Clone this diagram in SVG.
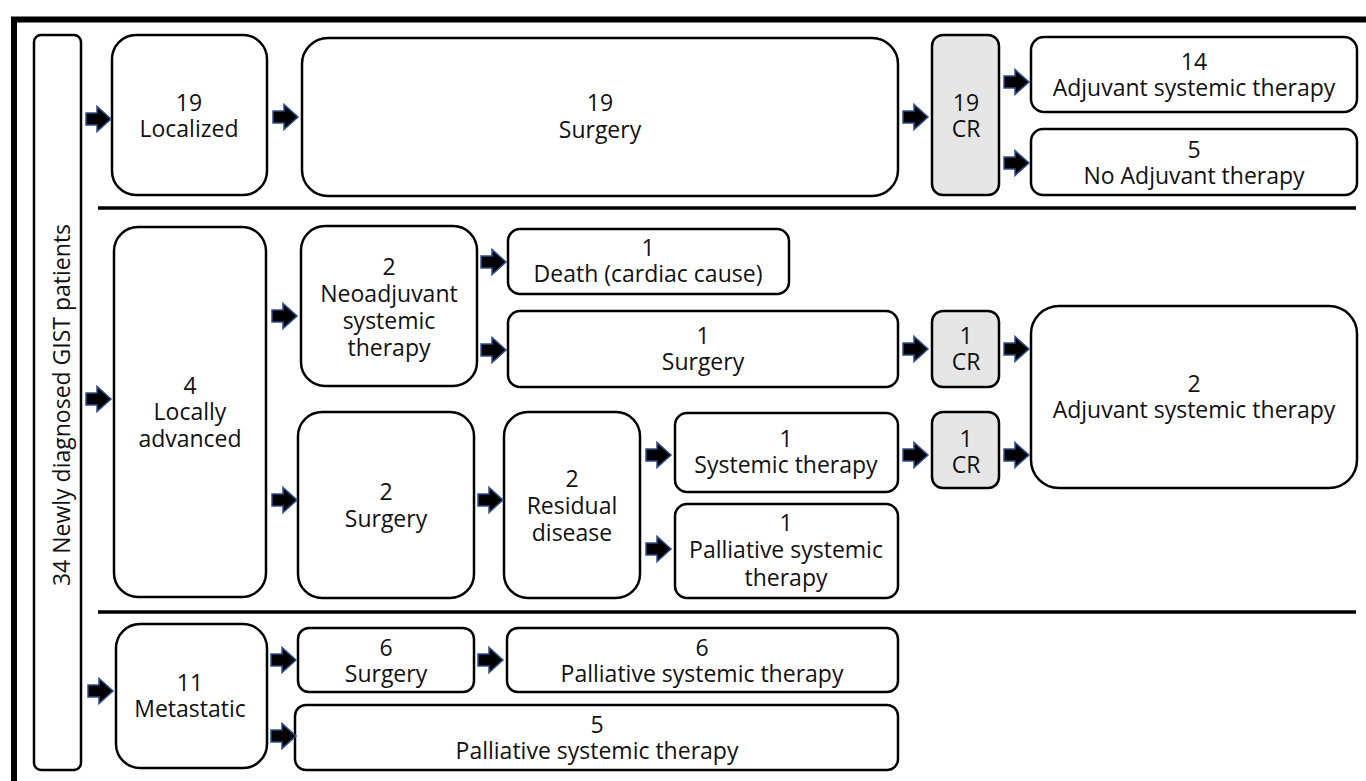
<svg xmlns="http://www.w3.org/2000/svg" width="1366" height="781" viewBox="0 0 1366 781">
<defs>
<style>
.b{fill:#fff;stroke:#000;stroke-width:2.5}
.g{fill:#e6e6e6;stroke:#000;stroke-width:2.5}
.t{font-family:"Open Sans","Noto Sans",sans-serif;font-size:23px;fill:#111;text-anchor:middle}
.sep{stroke:#000;stroke-width:3.5}
</style>
<path id="ar" d="M0,-6 H11 V-12.5 L25,0 L11,12.5 V6 H0 Z" fill="#000" stroke="#2f4f8f" stroke-width="1.5" stroke-linejoin="miter"/>
</defs>
<rect width="1366" height="781" fill="#fff"/>
<path d="M14,781 V19.5 H1366" fill="none" stroke="#000" stroke-width="6"/>
<line class="sep" x1="98" y1="208" x2="1356" y2="208"/>
<line class="sep" x1="98" y1="612" x2="1356" y2="612"/>

<g id="root"><rect class="b" x="34" y="35" width="47" height="735" rx="7" stroke-width="2"/>
<text class="t" transform="translate(70,405) rotate(-90)">34 Newly diagnosed GIST patients</text></g>

<g id="localized"><rect class="b" x="112" y="35" width="155" height="160" rx="24"/>
<text class="t" x="189" y="111">19</text><text class="t" x="189" y="137">Localized</text></g>
<g id="surgery19"><rect class="b" x="302" y="38" width="596" height="158" rx="26"/>
<text class="t" x="600" y="111">19</text><text class="t" x="600" y="138">Surgery</text></g>
<g id="cr19"><rect class="g" x="932" y="35" width="67" height="160" rx="11"/>
<text class="t" x="966" y="111">19</text><text class="t" x="966" y="137">CR</text></g>
<g id="adj14"><rect class="b" x="1031" y="37" width="326" height="75" rx="13"/>
<text class="t" x="1194" y="70">14</text><text class="t" x="1194" y="96">Adjuvant systemic therapy</text></g>
<g id="noadj5"><rect class="b" x="1031" y="129" width="326" height="66" rx="12"/>
<text class="t" x="1194" y="158">5</text><text class="t" x="1194" y="184">No Adjuvant therapy</text></g>

<g id="locadv"><rect class="b" x="114" y="227" width="152" height="370" rx="24"/>
<text class="t" x="190" y="394">4</text><text class="t" x="190" y="420">Locally</text><text class="t" x="190" y="447">advanced</text></g>
<g id="neoadj"><rect class="b" x="301" y="226" width="176" height="160" rx="24"/>
<text class="t" x="389" y="275">2</text><text class="t" x="389" y="302">Neoadjuvant</text><text class="t" x="389" y="329">systemic</text><text class="t" x="389" y="356">therapy</text></g>
<g id="death"><rect class="b" x="508" y="229" width="281" height="65" rx="12"/>
<text class="t" x="648" y="256">1</text><text class="t" x="648" y="282">Death (cardiac cause)</text></g>
<g id="surgery1"><rect class="b" x="508" y="311" width="390" height="76" rx="12"/>
<text class="t" x="703" y="344">1</text><text class="t" x="703" y="370">Surgery</text></g>
<g id="cr1a"><rect class="g" x="932" y="311" width="67" height="76" rx="11"/>
<text class="t" x="966" y="344">1</text><text class="t" x="966" y="370">CR</text></g>
<g id="adj2"><rect class="b" x="1031" y="306" width="326" height="182" rx="28"/>
<text class="t" x="1194" y="392">2</text><text class="t" x="1194" y="418">Adjuvant systemic therapy</text></g>
<g id="surgery2"><rect class="b" x="298" y="412" width="176" height="186" rx="24"/>
<text class="t" x="386" y="500">2</text><text class="t" x="386" y="527">Surgery</text></g>
<g id="residual"><rect class="b" x="504" y="412" width="136" height="186" rx="24"/>
<text class="t" x="572" y="487">2</text><text class="t" x="572" y="514">Residual</text><text class="t" x="572" y="541">disease</text></g>
<g id="systemic"><rect class="b" x="675" y="413" width="223" height="79" rx="12"/>
<text class="t" x="786" y="447">1</text><text class="t" x="786" y="473">Systemic therapy</text></g>
<g id="cr1b"><rect class="g" x="932" y="412" width="67" height="76" rx="11"/>
<text class="t" x="966" y="447">1</text><text class="t" x="966" y="473">CR</text></g>
<g id="palliative1"><rect class="b" x="675" y="504" width="223" height="94" rx="12"/>
<text class="t" x="786" y="531">1</text><text class="t" x="786" y="558">Palliative systemic</text><text class="t" x="786" y="586">therapy</text></g>

<g id="metastatic"><rect class="b" x="116" y="624" width="151" height="144" rx="24"/>
<text class="t" x="190" y="691">11</text><text class="t" x="190" y="717">Metastatic</text></g>
<g id="surgery6"><rect class="b" x="298" y="628" width="176" height="64" rx="11"/>
<text class="t" x="386" y="656">6</text><text class="t" x="386" y="682">Surgery</text></g>
<g id="palliative6"><rect class="b" x="507" y="628" width="391" height="64" rx="11"/>
<text class="t" x="702" y="656">6</text><text class="t" x="702" y="682">Palliative systemic therapy</text></g>
<g id="palliative5"><rect class="b" x="295" y="705" width="603" height="65" rx="11"/>
<text class="t" x="597" y="733">5</text><text class="t" x="597" y="759">Palliative systemic therapy</text></g>

<g id="connectors">
<use href="#ar" x="86" y="119"/>
<use href="#ar" x="273" y="117"/>
<use href="#ar" x="903" y="117"/>
<use href="#ar" x="1004" y="82"/>
<use href="#ar" x="1004" y="163"/>
<use href="#ar" x="86" y="399"/>
<use href="#ar" x="272" y="316"/>
<use href="#ar" x="272" y="500"/>
<use href="#ar" x="481" y="262"/>
<use href="#ar" x="481" y="350"/>
<use href="#ar" x="903" y="349"/>
<use href="#ar" x="1004" y="349"/>
<use href="#ar" x="478" y="500"/>
<use href="#ar" x="646" y="455"/>
<use href="#ar" x="646" y="549"/>
<use href="#ar" x="903" y="455"/>
<use href="#ar" x="1004" y="455"/>
<use href="#ar" x="88" y="691"/>
<use href="#ar" x="271" y="660"/>
<use href="#ar" x="271" y="736"/>
<use href="#ar" x="478" y="660"/>
</g>
</svg>
